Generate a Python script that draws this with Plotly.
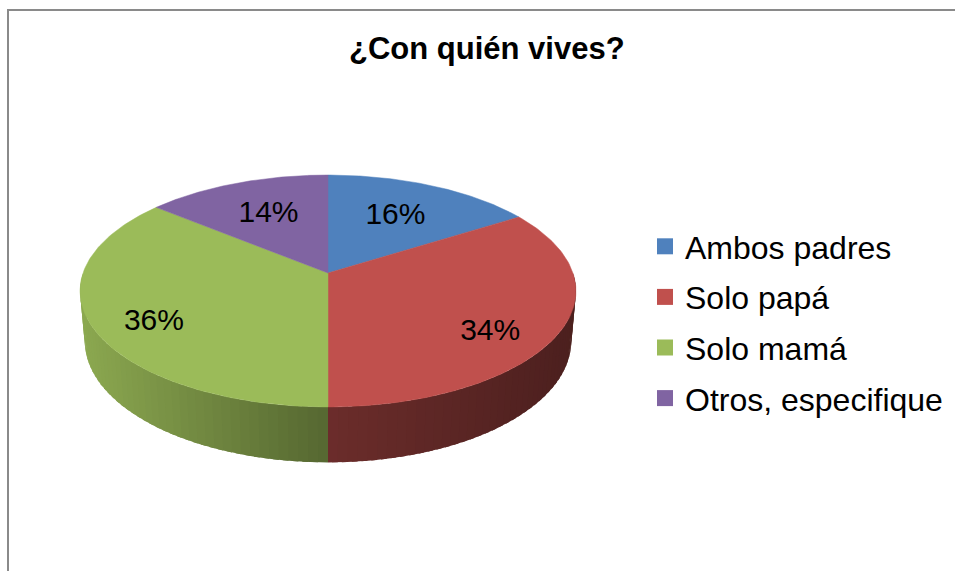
import numpy as np
import plotly.graph_objects as go

# ── Data ──────────────────────────────────────────────────
labels = ["Ambos padres", "Solo papá", "Solo mamá", "Otros, especifique"]
values = [16, 34, 36, 14]
colors = ["#4F81BD", "#C0504D", "#9BBB59", "#8064A2"]
title_text = "¿Con quién vives?"

# ── 3D pie geometry (page pixel space) ────────────────────
W, H = 955, 571
CX, CY = 328, 273
FOCAL = 1401.0
DIST = 5.72
T_SIN, T_COS = 0.462, 0.887
THICK = 0.232
LABEL_R = [0.62, 0.72, 0.75, 0.62]
LABEL_Y = [0.0, -0.08, -0.052, 0.0]
FONT = "Liberation Sans, Arial, sans-serif"


def project(X, Z, Y=0.0):
    depth = DIST + Z * T_COS - Y * T_SIN
    up = Z * T_SIN + Y * T_COS
    return CX + FOCAL * X / depth, CY - FOCAL * up / depth


def rgb(hexcol):
    h = hexcol.lstrip("#")
    return [int(h[i:i + 2], 16) for i in (0, 2, 4)]


def shade(hexcol, f):
    r, g, b = rgb(hexcol)
    return f"rgb({int(r * f)},{int(g * f)},{int(b * f)})"


def side_factor(x):
    # darker towards the right of the cylinder wall
    return float(np.interp(x, [83, 316, 572], [0.90, 0.57, 0.40]))


total = float(sum(values))
cum = np.concatenate([[0], np.cumsum(values)]) / total
angles = cum * 2 * np.pi

fig = go.Figure()

# side wall (front half only), thin overlapping strips for the gradient
for i, col in enumerate(colors):
    a0 = max(angles[i], np.pi / 2)
    a1 = min(angles[i + 1], 3 * np.pi / 2)
    if a1 <= a0:
        continue
    n = max(2, int(np.degrees(a1 - a0) / 2))
    edges = np.linspace(a0, a1, n + 1)
    step = edges[1] - edges[0]
    for k, (p, q) in enumerate(zip(edges[:-1], edges[1:])):
        q2 = q + (0.6 * step if k < n - 1 else 0)
        ph = np.linspace(p, q2, 4)
        tx, ty = project(np.sin(ph), np.cos(ph))
        bx, by = project(np.sin(ph[::-1]), np.cos(ph[::-1]), -THICK)
        xs = np.concatenate([tx, bx, tx[:1]])
        ys = np.concatenate([ty, by, ty[:1]])
        mx = project(np.sin((p + q) / 2), np.cos((p + q) / 2))[0]
        c = shade(col, side_factor(mx))
        fig.add_trace(go.Scatter(
            x=xs, y=ys, mode="lines", fill="toself",
            fillcolor=c, line=dict(width=0),
            hoverinfo="skip", showlegend=False,
        ))

# top faces
for i, col in enumerate(colors):
    ph = np.linspace(angles[i], angles[i + 1], 120)
    ax, ay = project(np.sin(ph), np.cos(ph))
    ox, oy = project(0.0, 0.0)
    xs = np.concatenate([[ox], ax, [ox]])
    ys = np.concatenate([[oy], ay, [oy]])
    fig.add_trace(go.Scatter(
        x=xs, y=ys, mode="lines", fill="toself",
        fillcolor=col, line=dict(color=col, width=0.5),
        name=labels[i], text=f"{labels[i]}: {values[i]}%",
        hoverinfo="text", showlegend=False,
    ))

# percentage labels
mid = (angles[:-1] + angles[1:]) / 2
lx, ly = [], []
for i, m in enumerate(mid):
    px, py = project(LABEL_R[i] * np.sin(m), LABEL_R[i] * np.cos(m), LABEL_Y[i])
    lx.append(px)
    ly.append(py)
pct = [f"{round(v / total * 100)}%" for v in values]
fig.add_trace(go.Scatter(
    x=lx, y=ly, mode="text", text=pct,
    textfont=dict(family=FONT, size=30, color="#000000"),
    hoverinfo="skip", showlegend=False,
))

# legend entries
for lab, col in zip(labels, colors):
    fig.add_trace(go.Scatter(
        x=[None], y=[None], mode="markers", name=lab, legendgroup=lab,
        marker=dict(symbol="square", size=16, color=col),
    ))

fig.update_layout(
    width=W, height=H,
    autosize=False,
    paper_bgcolor="white",
    plot_bgcolor="white",
    margin=dict(l=0, r=0, t=0, b=0),
    # axis ranges chosen so data units equal page pixels
    xaxis=dict(range=[0, W], visible=False, fixedrange=True),
    yaxis=dict(range=[H, 0], visible=False, fixedrange=True),
    showlegend=True,
    legend=dict(
        x=645 / W, xanchor="left",
        y=1 - 322.5 / H, yanchor="middle",
        font=dict(family=FONT, size=32, color="#000000"),
        tracegroupgap=6, itemsizing="trace",
        bgcolor="rgba(0,0,0,0)",
    ),
    annotations=[dict(
        x=487, y=48, xref="x", yref="y", text=title_text, showarrow=False,
        font=dict(family=FONT, size=31, color="#000000", weight="bold"),
    )],
    shapes=[dict(
        type="path", xref="x", yref="y",
        path=f"M 8 {H} L 8 10 L {W} 10",
        line=dict(color="#8a8a8a", width=2),
    )],
)

# drop the browser's default page margin so the figure fills the window
fig.write_html(
    "out.html",
    config={"displayModeBar": False},
    post_script="document.body.style.margin='0';document.body.style.overflow='hidden';",
)
